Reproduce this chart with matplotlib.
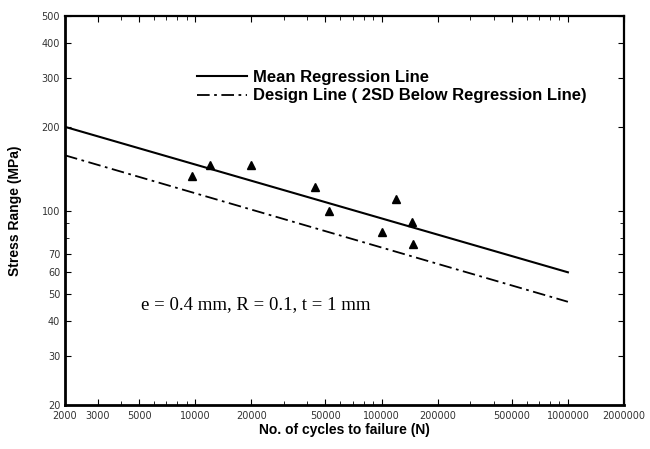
"""
plot.py

S-N plot: fatigue test results with mean regression line and design line
(2 standard deviations below) on log-log axes.
"""

import matplotlib.pyplot as plt
from matplotlib.ticker import FixedLocator, LogLocator, NullFormatter

# test results
cycles = [9600, 12000, 20000, 44000, 52000, 100000, 120000, 145000, 148000]
stress = [133, 146, 146, 122, 100, 84, 110, 91, 76]

# regression lines, evaluated at the ends of the range
line_cycles = [2000, 1000000]
mean_stress = [200, 60]
design_stress = [158, 47]

x_ticks = [2000, 3000, 5000, 10000, 20000, 50000, 100000, 200000,
           500000, 1000000, 2000000]
y_ticks = [20, 30, 40, 50, 60, 70, 100, 200, 300, 400, 500]

fig = plt.figure(figsize=(6.5, 4.49), dpi=100)
ax = fig.add_axes([0.1, 0.098, 0.86, 0.866])

ax.plot(line_cycles, mean_stress, color='black', lw=1.5,
        label='Mean Regression Line')
ax.plot(line_cycles, design_stress, color='black', lw=1.3,
        dashes=(7, 2.5, 1.5, 2.5),
        label='Design Line ( 2SD Below Regression Line)')
ax.plot(cycles, stress, linestyle='none', marker='^', markersize=6,
        color='black')

ax.set_xscale('log')
ax.set_yscale('log')
ax.set_xlim(2000, 2000000)
ax.set_ylim(20, 500)

ax.xaxis.set_major_locator(FixedLocator(x_ticks))
ax.set_xticklabels([str(t) for t in x_ticks])
ax.xaxis.set_minor_locator(LogLocator(base=10, subs=range(2, 10)))
ax.xaxis.set_minor_formatter(NullFormatter())

ax.yaxis.set_major_locator(FixedLocator(y_ticks))
ax.set_yticklabels([str(t) for t in y_ticks])
ax.yaxis.set_minor_locator(FixedLocator([80, 90]))
ax.yaxis.set_minor_formatter(NullFormatter())

ax.tick_params(which='both', direction='in', top=True, right=True,
               labelsize=7, colors='black', labelcolor='#333333')
ax.tick_params(which='major', length=4, width=0.8)
ax.tick_params(which='minor', length=3, width=0.6)
ax.tick_params(axis='x', pad=4)

for side in ['left', 'bottom']:
    ax.spines[side].set_linewidth(2.0)
for side in ['top', 'right']:
    ax.spines[side].set_linewidth(1.6)

ax.set_xlabel('No. of cycles to failure (N)', fontsize=10,
              fontweight='bold', family='Liberation Sans', labelpad=2)
ax.set_ylabel('Stress Range (MPa)', fontsize=10,
              fontweight='bold', family='Liberation Sans', labelpad=14)

ax.legend(loc='upper left', bbox_to_anchor=(0.21, 0.9), frameon=False,
          handlelength=3.0, handletextpad=0.35, labelspacing=0.2,
          borderpad=0.4,
          prop={'family': 'Liberation Sans', 'weight': 'bold', 'size': 12})

ax.text(0.342, 0.257, 'e = 0.4 mm, R = 0.1, t = 1 mm', transform=ax.transAxes,
        ha='center', va='center', fontsize=13.5, family='Liberation Serif')

fig.savefig('out.png', dpi=100)
